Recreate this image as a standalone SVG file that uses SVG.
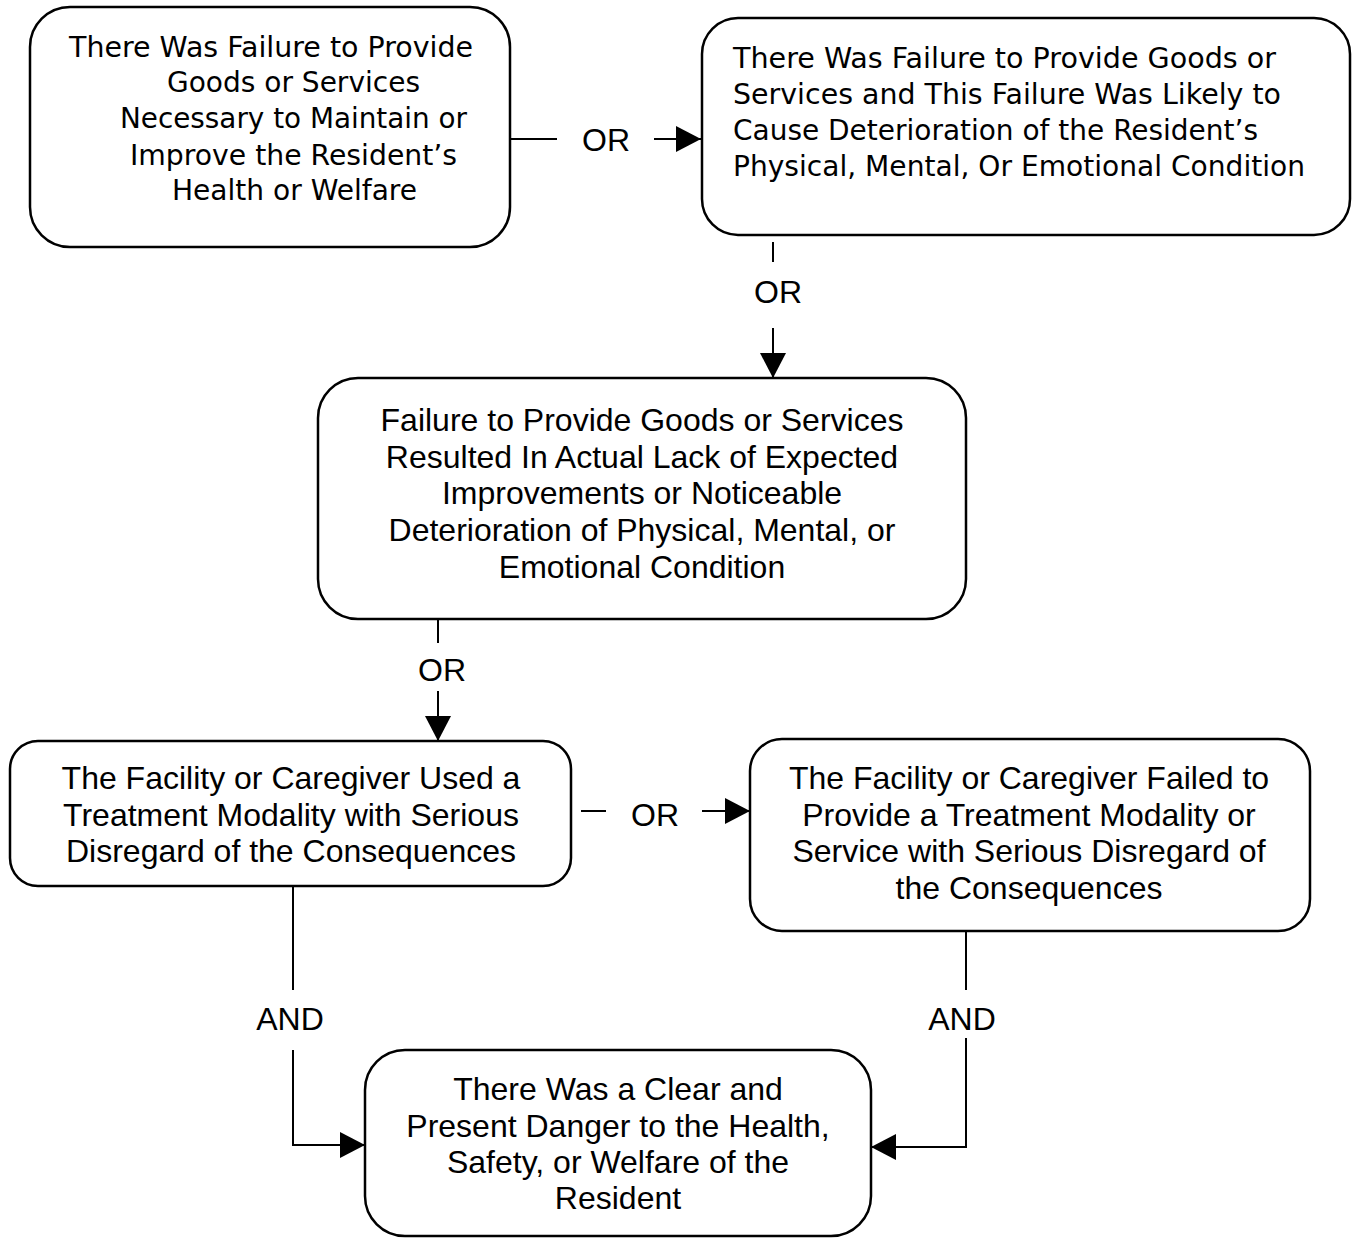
<svg xmlns="http://www.w3.org/2000/svg" width="1356" height="1238" viewBox="0 0 1356 1238">
<style>
.box{fill:#fff;stroke:#000;stroke-width:2.5}
.v{font-family:"DejaVu Sans",Verdana,sans-serif;font-size:28px;fill:#000}
.a{font-family:"Liberation Sans",Arial,sans-serif;font-size:32px;fill:#000;text-anchor:middle}
.c{fill:none;stroke:#000;stroke-width:2}
</style>
<defs>
<marker id="arr" markerUnits="userSpaceOnUse" markerWidth="26" markerHeight="26" refX="25" refY="13" orient="auto">
<path d="M0,0 L25,13 L0,26 z" fill="#000"/>
</marker>
</defs>
<rect width="1356" height="1238" fill="#fff"/>
<g id="connectors">
<line class="c" x1="510" y1="139" x2="557" y2="139"/>
<line class="c" x1="654" y1="139" x2="701" y2="139" marker-end="url(#arr)"/>
<text class="a" x="606" y="151">OR</text>
<line class="c" x1="773" y1="242" x2="773" y2="262"/>
<line class="c" x1="773" y1="328" x2="773" y2="378" marker-end="url(#arr)"/>
<text class="a" x="778" y="303">OR</text>
<line class="c" x1="438" y1="619" x2="438" y2="643"/>
<line class="c" x1="438" y1="691" x2="438" y2="741" marker-end="url(#arr)"/>
<text class="a" x="442" y="681">OR</text>
<line class="c" x1="581" y1="811" x2="606" y2="811"/>
<line class="c" x1="702" y1="811" x2="750" y2="811" marker-end="url(#arr)"/>
<text class="a" x="655" y="826">OR</text>
<line class="c" x1="293" y1="886" x2="293" y2="990"/>
<polyline class="c" points="293,1050 293,1145 365,1145" marker-end="url(#arr)"/>
<text class="a" x="290" y="1030">AND</text>
<line class="c" x1="966" y1="931" x2="966" y2="990"/>
<polyline class="c" points="966,1038 966,1147 871,1147" marker-end="url(#arr)"/>
<text class="a" x="962" y="1030">AND</text>
</g>
<g id="n1">
<rect class="box" x="30" y="7" width="480" height="240" rx="40"/>
<text class="v" x="69" y="57" textLength="404" lengthAdjust="spacingAndGlyphs">There Was Failure to Provide</text>
<text class="v" x="167" y="92" textLength="253" lengthAdjust="spacingAndGlyphs">Goods or Services</text>
<text class="v" x="120" y="128" textLength="347" lengthAdjust="spacingAndGlyphs">Necessary to Maintain or</text>
<text class="v" x="130" y="165" textLength="327" lengthAdjust="spacingAndGlyphs">Improve the Resident’s</text>
<text class="v" x="172" y="200" textLength="245" lengthAdjust="spacingAndGlyphs">Health or Welfare</text>
</g>
<g id="n2">
<rect class="box" x="702" y="18" width="648" height="217" rx="36"/>
<text class="v" x="733" y="68" textLength="543" lengthAdjust="spacingAndGlyphs">There Was Failure to Provide Goods or</text>
<text class="v" x="733" y="104" textLength="548" lengthAdjust="spacingAndGlyphs">Services and This Failure Was Likely to</text>
<text class="v" x="733" y="140" textLength="525" lengthAdjust="spacingAndGlyphs">Cause Deterioration of the Resident’s</text>
<text class="v" x="733" y="176" textLength="572" lengthAdjust="spacingAndGlyphs">Physical, Mental, Or Emotional Condition</text>
</g>
<g id="n3">
<rect class="box" x="318" y="378" width="648" height="241" rx="40"/>
<text class="a" x="642" y="431">Failure to Provide Goods or Services</text>
<text class="a" x="642" y="468">Resulted In Actual Lack of Expected</text>
<text class="a" x="642" y="504">Improvements or Noticeable</text>
<text class="a" x="642" y="541">Deterioration of Physical, Mental, or</text>
<text class="a" x="642" y="578">Emotional Condition</text>
</g>
<g id="n4">
<rect class="box" x="10" y="741" width="561" height="145" rx="28"/>
<text class="a" x="291" y="789">The Facility or Caregiver Used a</text>
<text class="a" x="291" y="826">Treatment Modality with Serious</text>
<text class="a" x="291" y="862">Disregard of the Consequences</text>
</g>
<g id="n5">
<rect class="box" x="750" y="739" width="560" height="192" rx="32"/>
<text class="a" x="1029" y="789">The Facility or Caregiver Failed to</text>
<text class="a" x="1029" y="826">Provide a Treatment Modality or</text>
<text class="a" x="1029" y="862">Service with Serious Disregard of</text>
<text class="a" x="1029" y="899">the Consequences</text>
</g>
<g id="n6">
<rect class="box" x="365" y="1050" width="506" height="186" rx="40"/>
<text class="a" x="618" y="1100">There Was a Clear and</text>
<text class="a" x="618" y="1137">Present Danger to the Health,</text>
<text class="a" x="618" y="1173">Safety, or Welfare of the</text>
<text class="a" x="618" y="1209">Resident</text>
</g>
</svg>
